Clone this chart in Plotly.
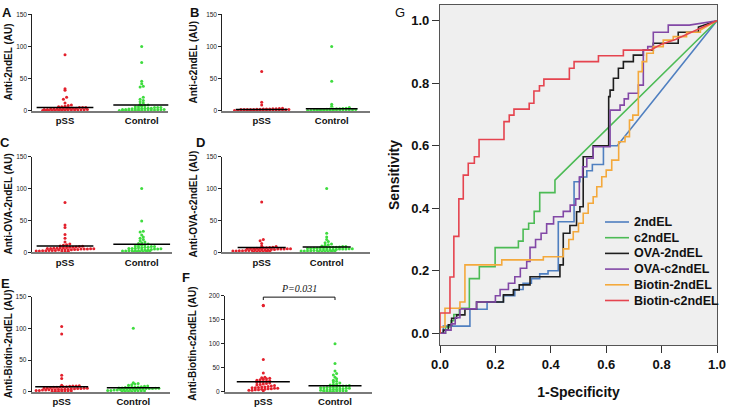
import plotly.graph_objects as go

W, H = 733, 407

groups = ["pSS", "Control"]

# ---------------- scatter panels (values in AU) ----------------
a_pss = [87, 34, 32, 21, 18, 12, 9, 8, 7, 6, 6, 5, 5, 5, 4, 4, 4, 3.5, 3, 3, 3, 2.5, 2.5, 2, 2,
         1.8, 1.5, 1.5, 1.2, 1, 1, 1, 0.8, 0.8, 0.6, 0.5, 0.5, 0.4, 0.3, 0.2]
a_ctrl = [100, 75, 46, 42, 38, 37, 21, 18, 16, 14, 12, 10, 9, 8, 7, 6, 6, 5, 5, 5, 4, 4, 4, 3.5, 3,
          3, 3, 2.5, 2, 2, 1.8, 1.5, 1.5, 1.2, 1, 1, 1, 0.8, 0.8, 0.6, 0.5, 0.5, 0.4, 0.3, 0.2]
b_pss = [61, 13, 9, 4, 3.5, 3, 3, 2.8, 2.5, 2.5, 2.2, 2.2, 2, 2, 2, 2, 2, 1.8, 1.5, 1.5, 1.5, 1.2,
         1.2, 1, 1, 1, 0.8, 0.8, 0.6, 0.5, 0.5, 0.4, 0.3, 0.2, 0.2]
b_ctrl = [100, 46, 10, 7, 5, 4, 3.5, 3, 3, 2.5, 2.5, 2.2, 2, 2, 2, 2, 1.8, 1.5, 1.5, 1.2, 1, 1, 1,
          0.8, 0.8, 0.6, 0.5, 0.5, 0.4, 0.3, 0.2, 0.2]
c_pss = [78, 43, 39, 28, 22, 16, 13, 12, 11, 10, 9.5, 9, 8.5, 8, 8, 7.5, 7, 7, 6.5, 6.5, 6, 6, 5.5,
         5.5, 5, 5, 5, 4.5, 4.5, 4, 4, 4, 3.5, 3.5, 3, 3, 3, 2.5, 2.5, 2, 2, 1.5, 1, 0.5]
c_ctrl = [100, 49, 33, 32, 27, 24, 22, 20, 18, 16, 15, 14, 13, 12, 11, 10, 10, 9, 9, 8, 8, 7, 7, 6.5,
          6, 6, 5.5, 5, 5, 4.5, 4, 4, 3.5, 3, 3, 2.5, 2.5, 2, 2, 1.5, 1.5, 1, 1, 0.5, 0.5]
d_pss = [79, 20, 18, 14, 10, 9, 8, 7.5, 7, 7, 6.5, 6.5, 6, 6, 6, 5.5, 5.5, 5, 5, 5, 4.5, 4.5, 4, 4,
         4, 3.5, 3.5, 3, 3, 3, 2.5, 2.5, 2, 2, 1.5, 1.5, 1, 1, 0.5, 0.5]
d_ctrl = [100, 30, 24, 20, 17, 15, 13, 12, 11, 10, 9, 9, 8.5, 8, 8, 7.5, 7, 7, 7, 6.5, 6.5, 6, 6,
          5.5, 5.5, 5, 5, 5, 4.5, 4.5, 4, 4, 3.5, 3.5, 3, 3, 2.5, 2.5, 2, 2, 1.5, 1.5, 1, 1, 0.5, 0.5]
e_pss = [103, 91, 26, 21, 10, 9.5, 9, 9, 8.5, 8, 8, 7.5, 7, 7, 6.5, 6, 6, 5.5, 5.5, 5, 5, 4.5, 4.5,
         4, 4, 3.5, 3.5, 3, 3, 3, 2.5, 2.5, 2, 2, 1.5, 1.5, 1, 1, 0.5, 0.5, 0.5]
e_ctrl = [100, 14, 13, 12, 11, 10, 9, 8.5, 8, 7.5, 7, 7, 6.5, 6.5, 6, 6, 5.5, 5.5, 5, 5, 5, 4.5,
          4.5, 4, 4, 3.5, 3.5, 3, 3, 2.5, 2.5, 2, 2, 1.5, 1.5, 1, 1, 0.5, 0.5, 0.5, 0.5]
f_pss = [180, 179, 67, 39, 30, 29, 28, 27, 26, 25, 24, 23, 22, 21, 20, 19, 18, 17, 16, 15, 14, 13,
         12, 11, 10, 10, 9, 8, 8, 7, 7, 6, 6, 5, 5, 4, 4, 3, 3, 2]
f_ctrl = [100, 59, 43, 38, 35, 30, 27, 24, 22, 20, 18, 16, 15, 14, 13, 12, 12, 11, 10, 10, 9, 9, 8,
          8, 7, 7, 6, 6, 5, 5, 4, 4, 3, 3, 2, 2, 2, 1.5, 1, 1, 0.5, 0.5]

# group centre lines
a_lines = [5, 9]
b_lines = [2, 3]
c_lines = [10, 12.5]
d_lines = [7.5, 8.4]
e_lines = [7.9, 6.3]
f_lines = [20.8, 12.5]

y_titles = ["Anti-2ndEL (AU)", "Anti-c2ndEL (AU)", "Anti-OVA-2ndEL (AU)",
            "Anti-OVA-c2ndEL (AU)", "Anti-Biotin-2ndEL (AU)", "Anti-Biotin-c2ndEL (AU)"]
panel_letters = ["A", "B", "C", "D", "E", "F"]
y_max = [150, 150, 150, 150, 150, 200]
y_ticks = [[0, 50, 100, 150]] * 5 + [[0, 50, 100, 150, 200]]

panel_data = [(a_pss, a_ctrl, a_lines), (b_pss, b_ctrl, b_lines), (c_pss, c_ctrl, c_lines),
              (d_pss, d_ctrl, d_lines), (e_pss, e_ctrl, e_lines), (f_pss, f_ctrl, f_lines)]

# ---------------- ROC curves (1-specificity, sensitivity) ----------------
roc_names = ["2ndEL", "c2ndEL", "OVA-2ndEL", "OVA-c2ndEL", "Biotin-2ndEL", "Biotin-c2ndEL"]
roc_colors = ["#4f7fc0", "#4cbb55", "#1e1e1e", "#8248a6", "#f4a93c", "#e5444f"]

roc_2ndel_x = [0, 0.012, 0.012, 0.108, 0.108, 0.17, 0.17, 0.229, 0.229, 0.27, 0.27, 0.3, 0.3, 0.33,
               0.33, 0.36, 0.36, 0.39, 0.39, 0.427, 0.427, 0.484, 0.484, 0.505, 0.505, 0.53, 0.53,
               0.55, 0.55, 0.59, 0.59, 0.64, 1]
roc_2ndel_y = [0, 0, 0.023, 0.023, 0.077, 0.077, 0.1, 0.1, 0.12, 0.12, 0.14, 0.14, 0.16, 0.16,
               0.175, 0.175, 0.19, 0.19, 0.2, 0.2, 0.357, 0.357, 0.485, 0.485, 0.5, 0.5, 0.52,
               0.52, 0.54, 0.54, 0.6, 0.6, 1]

roc_c2ndel_x = [0, 0.02, 0.02, 0.04, 0.04, 0.05, 0.05, 0.07, 0.07, 0.106, 0.106, 0.142, 0.142,
                0.199, 0.199, 0.283, 0.283, 0.3, 0.3, 0.32, 0.32, 0.34, 0.34, 0.36, 0.36, 0.415,
                0.415, 1]
roc_c2ndel_y = [0, 0, 0.02, 0.02, 0.04, 0.04, 0.06, 0.06, 0.08, 0.08, 0.175, 0.175, 0.213, 0.213,
                0.274, 0.274, 0.295, 0.295, 0.333, 0.333, 0.352, 0.352, 0.39, 0.39, 0.45, 0.45,
                0.49, 1]

roc_ova2_x = [0, 0.012, 0.012, 0.03, 0.03, 0.042, 0.042, 0.06, 0.06, 0.09, 0.09, 0.132, 0.132,
              0.229, 0.229, 0.265, 0.265, 0.286, 0.286, 0.325, 0.325, 0.433, 0.433, 0.445, 0.445,
              0.469, 0.469, 0.493, 0.493, 0.505, 0.505, 0.517, 0.517, 0.553, 0.553, 0.609, 0.609,
              0.614, 0.614, 0.626, 0.626, 0.644, 0.644, 0.662, 0.662, 0.698, 0.698, 0.734, 0.734,
              0.77, 0.77, 0.86, 0.86, 0.933, 0.933, 1]
roc_ova2_y = [0, 0, 0.01, 0.01, 0.027, 0.027, 0.048, 0.048, 0.059, 0.059, 0.078, 0.078, 0.1, 0.1,
              0.123, 0.123, 0.139, 0.139, 0.155, 0.155, 0.181, 0.181, 0.219, 0.219, 0.32, 0.32,
              0.345, 0.345, 0.389, 0.389, 0.405, 0.405, 0.565, 0.565, 0.6, 0.6, 0.757, 0.757,
              0.778, 0.778, 0.816, 0.816, 0.848, 0.848, 0.869, 0.869, 0.89, 0.89, 0.906, 0.906,
              0.928, 0.928, 0.963, 0.963, 0.98, 1]

roc_ovac2_x = [0, 0.02, 0.02, 0.04, 0.04, 0.055, 0.055, 0.072, 0.072, 0.132, 0.132, 0.2, 0.2,
               0.217, 0.217, 0.247, 0.247, 0.27, 0.27, 0.29, 0.29, 0.313, 0.313, 0.325, 0.325,
               0.345, 0.345, 0.365, 0.365, 0.385, 0.385, 0.41, 0.41, 0.445, 0.445, 0.47, 0.47,
               0.49, 0.49, 0.503, 0.503, 0.515, 0.515, 0.53, 0.53, 0.553, 0.553, 0.614, 0.614,
               0.65, 0.65, 0.665, 0.665, 0.68, 0.68, 0.716, 0.716, 0.734, 0.734, 0.75, 0.75, 0.77,
               0.77, 0.824, 0.824, 0.9, 1]
roc_ovac2_y = [0, 0, 0.01, 0.01, 0.03, 0.03, 0.05, 0.05, 0.078, 0.078, 0.1, 0.1, 0.12, 0.12,
               0.14, 0.14, 0.16, 0.16, 0.181, 0.181, 0.208, 0.208, 0.23, 0.23, 0.275, 0.275, 0.3,
               0.3, 0.32, 0.32, 0.35, 0.35, 0.373, 0.373, 0.39, 0.39, 0.41, 0.41, 0.43, 0.43,
               0.5, 0.5, 0.533, 0.533, 0.56, 0.56, 0.597, 0.597, 0.714, 0.714, 0.73, 0.73, 0.75,
               0.75, 0.768, 0.768, 0.794, 0.794, 0.906, 0.906, 0.917, 0.917, 0.963, 0.963, 0.986,
               0.986, 1]

roc_bio2_x = [0, 0, 0.018, 0.018, 0.072, 0.072, 0.09, 0.09, 0.223, 0.223, 0.373, 0.373, 0.445,
              0.445, 0.465, 0.465, 0.481, 0.481, 0.5, 0.5, 0.517, 0.517, 0.535, 0.535, 0.553,
              0.553, 0.566, 0.566, 0.584, 0.584, 0.6, 0.6, 0.62, 0.62, 0.645, 0.645, 0.668, 0.668,
              0.684, 0.684, 0.696, 0.696, 0.716, 0.716, 0.73, 0.73, 0.746, 0.746, 0.77, 0.77,
              0.806, 0.806, 0.842, 0.842, 0.89, 0.89, 0.94, 0.94, 1]
roc_bio2_y = [0, 0.02, 0.02, 0.08, 0.08, 0.1, 0.1, 0.219, 0.219, 0.235, 0.235, 0.245, 0.245,
              0.27, 0.27, 0.3, 0.3, 0.325, 0.325, 0.352, 0.352, 0.384, 0.384, 0.416, 0.416, 0.437,
              0.437, 0.469, 0.469, 0.501, 0.501, 0.522, 0.522, 0.554, 0.554, 0.613, 0.613, 0.629,
              0.629, 0.682, 0.682, 0.698, 0.698, 0.837, 0.837, 0.869, 0.869, 0.896, 0.896, 0.917,
              0.917, 0.938, 0.938, 0.949, 0.949, 0.963, 0.963, 0.97, 1]

roc_bioc2_x = [0, 0, 0.036, 0.036, 0.05, 0.05, 0.068, 0.068, 0.084, 0.084, 0.102, 0.102, 0.124,
               0.124, 0.141, 0.141, 0.231, 0.231, 0.25, 0.25, 0.267, 0.267, 0.322, 0.322, 0.339,
               0.339, 0.359, 0.359, 0.375, 0.375, 0.467, 0.467, 0.484, 0.484, 0.572, 0.572, 0.662,
               0.662, 0.76, 0.8, 0.85, 0.9, 0.95, 1]
roc_bioc2_y = [0, 0.065, 0.065, 0.18, 0.18, 0.31, 0.31, 0.43, 0.43, 0.506, 0.506, 0.544, 0.544,
               0.565, 0.565, 0.62, 0.62, 0.677, 0.677, 0.698, 0.698, 0.717, 0.717, 0.736, 0.736,
               0.775, 0.775, 0.792, 0.792, 0.813, 0.813, 0.848, 0.848, 0.869, 0.869, 0.888, 0.888,
               0.906, 0.906, 0.925, 0.94, 0.96, 0.98, 1]

roc_series = [(roc_2ndel_x, roc_2ndel_y), (roc_c2ndel_x, roc_c2ndel_y), (roc_ova2_x, roc_ova2_y),
              (roc_ovac2_x, roc_ovac2_y), (roc_bio2_x, roc_bio2_y), (roc_bioc2_x, roc_bioc2_y)]

roc_ticks = [0.0, 0.2, 0.4, 0.6, 0.8, 1.0]

# ---------------- layout geometry (pixels in the 733x407 page) ----------------
# (y-axis x, x-axis end, pSS centre, Control centre, top tick y, zero y)
geom = [
    (32.3, 168.3, 65.0, 141.7, 14.3, 110.7),
    (222.3, 370.0, 261.7, 331.7, 14.3, 110.7),
    (32.3, 172.0, 65.0, 141.7, 156.7, 252.3),
    (222.3, 370.0, 261.7, 326.7, 156.7, 252.3),
    (31.7, 170.0, 61.7, 133.3, 296.7, 391.7),
    (225.0, 371.7, 263.3, 335.0, 295.7, 391.7),
]
letter_pos = [(7, 12), (194, 12), (5, 142), (200, 142), (5, 283), (186, 277)]
title_x = [8, 193, 8, 193, 8, 193]

RED = "#e3202c"
GREEN = "#3fdc3f"


def swarm(values, centre, ppu_y, ppu_x, row_h=2.5, gap=3.2):
    rows = {}
    for v in sorted(values):
        rows.setdefault(int(round(v * ppu_y / row_h)), []).append(v)
    xs, ys = [], []
    for r in sorted(rows):
        vs = rows[r]
        n = len(vs)
        for i, v in enumerate(vs):
            xs.append(centre + (i - (n - 1) / 2) * gap / ppu_x)
            ys.append(v)
    return xs, ys


fig = go.Figure()
layout = dict(width=W, height=H, margin=dict(l=0, r=0, t=0, b=0, autoexpand=False),
              paper_bgcolor="white", plot_bgcolor="rgba(0,0,0,0)",
              font=dict(family="Liberation Sans, Arial, sans-serif", color="#111"))
annotations = []
shapes = []

for i, ((pss, ctrl, lines), g) in enumerate(zip(panel_data, geom)):
    k = i + 1
    ax_x, ax_end, c_pss, c_ctrl, y_top, y_zero = g
    ppu_x = c_ctrl - c_pss
    x0 = 1 - (c_pss - ax_x) / ppu_x
    x1 = 2 + (ax_end - c_ctrl) / ppu_x
    ppu_y = (y_zero - y_top) / y_max[i]
    xa, ya = f"x{k}", f"y{k}"
    for j, (vals, col) in enumerate([(pss, RED), (ctrl, GREEN)]):
        xs, ys = swarm(vals, j + 1, ppu_y, ppu_x)
        fig.add_trace(go.Scatter(x=xs, y=ys, mode="markers", xaxis=xa, yaxis=ya,
                                 marker=dict(color=col, size=3.0, symbol="circle"),
                                 showlegend=False, cliponaxis=False, hoverinfo="y"))
        fig.add_trace(go.Scatter(x=[j + 1 - 0.37, j + 1 + 0.37], y=[lines[j], lines[j]],
                                 mode="lines", xaxis=xa, yaxis=ya, cliponaxis=False,
                                 line=dict(color="black", width=1.5), showlegend=False,
                                 hoverinfo="skip"))
    layout[f"xaxis{k}"] = dict(domain=[ax_x / W, ax_end / W], range=[x0, x1], anchor=ya,
                               tickvals=[1, 2], ticktext=groups, ticks="",
                               tickfont=dict(size=9.5, weight="bold", color="#111"),
                               showline=True, linecolor="#7a7a7a", linewidth=2,
                               showgrid=False, zeroline=False, fixedrange=True)
    layout[f"yaxis{k}"] = dict(domain=[1 - y_zero / H, 1 - y_top / H], range=[0, y_max[i]],
                               anchor=xa, tickvals=y_ticks[i], ticks="outside", ticklen=3,
                               tickwidth=1, tickcolor="#222", tickfont=dict(size=6.5, color="#222"),
                               showline=True, linecolor="#222", linewidth=1,
                               showgrid=False, zeroline=False, fixedrange=True)
    annotations.append(dict(text=y_titles[i], x=title_x[i] / W, y=1 - (y_top + y_zero) / 2 / H,
                            xref="paper", yref="paper", textangle=-90, showarrow=False,
                            xanchor="center", yanchor="middle",
                            font=dict(size=10, weight="bold", color="#111")))
    lx, ly = letter_pos[i]
    annotations.append(dict(text=panel_letters[i], x=lx / W, y=1 - ly / H, xref="paper",
                            yref="paper", showarrow=False, xanchor="center", yanchor="middle",
                            font=dict(size=13, weight="bold", color="#111")))

# P-value bracket on panel F
shapes.append(dict(type="path", xref="x6", yref="y6", path="M 1,191 L 1,197 L 2,197 L 2,191",
                   line=dict(color="#111", width=1)))
annotations.append(dict(text="<i>P=0.031</i>", x=1.5, y=199, xref="x6", yref="y6",
                        showarrow=False, xanchor="center", yanchor="bottom",
                        font=dict(family="Liberation Serif, Times New Roman, serif", size=10,
                                  color="#111")))

# ---------------- ROC panel G ----------------
for (xs, ys), name, col in zip(roc_series, roc_names, roc_colors):
    fig.add_trace(go.Scatter(x=xs, y=ys, mode="lines", name=name, xaxis="x7", yaxis="y7",
                             line=dict(color=col, width=1.6), showlegend=False))

g_left, g_right, g_top, g_bottom = 440, 717, 5, 345
y_one, y_zero_px = 20.7, 333.3
ppu = y_zero_px - y_one
layout["xaxis7"] = dict(domain=[g_left / W, g_right / W], range=[0, 1], anchor="y7",
                        tickvals=roc_ticks, tickformat=".1f", ticks="outside", ticklen=7,
                        tickcolor="#333", tickwidth=1.2,
                        tickfont=dict(size=13, weight="bold", color="#111"),
                        showline=True, mirror=True, linecolor="#555", linewidth=1.3,
                        showgrid=False, zeroline=False, fixedrange=True,
                        title=dict(text="1-Specificity", standoff=16,
                                   font=dict(size=14, weight="bold", color="#111")))
layout["yaxis7"] = dict(domain=[1 - g_bottom / H, 1 - g_top / H],
                        range=[-(g_bottom - y_zero_px) / ppu, 1 + (y_one - g_top) / ppu],
                        anchor="x7", tickvals=roc_ticks, tickformat=".1f", ticks="outside",
                        ticklen=7, tickcolor="#333", tickwidth=1.2,
                        tickfont=dict(size=13, weight="bold", color="#111"),
                        showline=True, mirror=True, linecolor="#555", linewidth=1.3,
                        showgrid=False, zeroline=False, fixedrange=True)
annotations.append(dict(text="Sensitivity", x=394 / W, y=1 - 175 / H, xref="paper",
                        yref="paper", textangle=-90, showarrow=False, xanchor="center",
                        yanchor="middle", font=dict(size=14, weight="bold", color="#111")))
annotations.append(dict(text="G", x=400 / W, y=1 - 12 / H, xref="paper", yref="paper",
                        showarrow=False, xanchor="center", yanchor="middle",
                        font=dict(size=13, color="#111")))
shapes.insert(0, dict(type="rect", xref="x7 domain", yref="y7 domain", x0=0, x1=1, y0=0, y1=1,
                      fillcolor="#efefef", line=dict(width=0), layer="below"))

# legend for panel G (line sample + label per series)
leg_line_x0, leg_line_x1, leg_text_x = 605, 629, 632
leg_y0, leg_dy = 222, 15.7
for i, (name, col) in enumerate(zip(roc_names, roc_colors)):
    yy = 1 - (leg_y0 + i * leg_dy) / H
    shapes.append(dict(type="line", xref="paper", yref="paper", x0=leg_line_x0 / W,
                       x1=leg_line_x1 / W, y0=yy, y1=yy, line=dict(color=col, width=1.6)))
    annotations.append(dict(text=name, x=leg_text_x / W, y=yy, xref="paper", yref="paper",
                            showarrow=False, xanchor="left", yanchor="middle",
                            font=dict(size=12.5, weight="bold", color="#111")))

layout["annotations"] = annotations
layout["shapes"] = shapes
layout["showlegend"] = False
fig.update_layout(**layout)

fig.write_html("out.html", config={"displayModeBar": False},
               post_script="document.body.style.margin='0';")
